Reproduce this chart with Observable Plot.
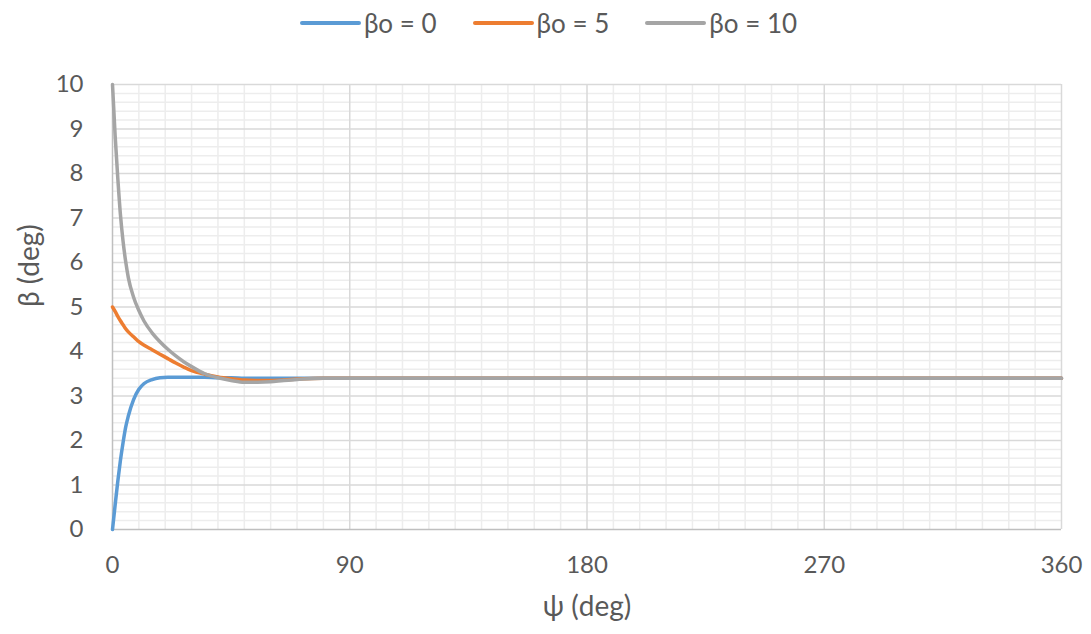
<!DOCTYPE html>
<html>
<head>
<meta charset="utf-8">
<script src="https://cdn.jsdelivr.net/npm/d3@7"></script>
<script src="https://cdn.jsdelivr.net/npm/@observablehq/plot@0.6"></script>
<style>
  html, body { margin: 0; padding: 0; background: #fff; }
  body { width: 1091px; height: 634px; overflow: hidden; font-family: Lato, "Open Sans", sans-serif; }
  #legend { height: 45px; display: flex; justify-content: center; align-items: center; gap: 36px; color: #595959; font-size: 26px; padding-left: 6px; box-sizing: border-box; }
  #legend .item { display: flex; align-items: center; gap: 3px; }
  #legend .sw { width: 61px; height: 4px; border-radius: 2px; }
</style>
</head>
<body>
<div id="legend"></div>
<div id="chart"></div>
<script>
const psi = [0, 1, 2, 3, 4, 5, 6, 8, 10, 12, 15, 18, 21, 24, 27, 30, 35, 40, 45, 50, 55, 60, 65, 70, 80, 90, 120, 180, 270, 360];
const beta0 = [0, 0.55, 1.08, 1.55, 1.95, 2.3, 2.55, 2.92, 3.15, 3.28, 3.37, 3.41, 3.42, 3.42, 3.42, 3.42, 3.42, 3.41, 3.41, 3.4, 3.4, 3.4, 3.4, 3.4, 3.4, 3.4, 3.4, 3.4, 3.4, 3.4];
const beta5 = [5.0, 4.9, 4.79, 4.69, 4.6, 4.51, 4.44, 4.33, 4.22, 4.14, 4.04, 3.94, 3.84, 3.74, 3.65, 3.57, 3.49, 3.43, 3.39, 3.36, 3.35, 3.35, 3.36, 3.38, 3.4, 3.4, 3.4, 3.4, 3.4, 3.4];
const beta10 = [10, 8.85, 7.9, 7.08, 6.48, 6.02, 5.66, 5.22, 4.92, 4.68, 4.42, 4.22, 4.05, 3.9, 3.77, 3.66, 3.5, 3.41, 3.35, 3.31, 3.31, 3.32, 3.35, 3.37, 3.4, 3.4, 3.4, 3.4, 3.4, 3.4];
const seriesNames = ["βo = 0", "βo = 5", "βo = 10"];
const seriesColors = ["#5B9BD5", "#ED7D31", "#A5A5A5"];
const xTicks = [0, 90, 180, 270, 360];
const yTicks = [0, 1, 2, 3, 4, 5, 6, 7, 8, 9, 10];
const xMinor = d3.range(10, 360, 10).filter(v => v % 90 !== 0);
const yMinor = d3.range(1, 50).map(i => i / 5).filter(v => Math.abs(v - Math.round(v)) > 1e-6);

const allSeries = [beta0, beta5, beta10];
const data = [];
allSeries.forEach((vals, s) => vals.forEach((b, i) => data.push({ s: seriesNames[s], psi: psi[i], beta: b })));

const legend = document.getElementById("legend");
seriesNames.forEach((n, i) => {
  const it = document.createElement("div");
  it.className = "item";
  it.innerHTML = `<span class="sw" style="background:${seriesColors[i]}"></span><span>${n}</span>`;
  legend.appendChild(it);
});

const chart = Plot.plot({
  width: 1091,
  height: 589,
  marginTop: 39,
  marginBottom: 105,
  marginLeft: 112,
  marginRight: 30,
  style: { fontFamily: "Lato, 'Open Sans', sans-serif", fontSize: "24px", color: "#595959", background: "#fff" },
  x: { domain: [0, 360], ticks: xTicks, label: null },
  y: { domain: [0, 10], ticks: yTicks, label: null },
  color: { domain: seriesNames, range: seriesColors },
  marks: [
    Plot.ruleY(yMinor, { stroke: "#EDEDED", strokeWidth: 1.5 }),
    Plot.ruleX(xMinor, { stroke: "#EDEDED", strokeWidth: 1.5 }),
    Plot.ruleY(yTicks.filter(v => v > 0), { stroke: "#D9D9D9", strokeWidth: 1.5 }),
    Plot.ruleX(xTicks.filter(v => v > 0), { stroke: "#D9D9D9", strokeWidth: 1.5 }),
    Plot.ruleX([0], { stroke: "#BFBFBF", strokeWidth: 1.5 }),
    Plot.ruleY([0], { stroke: "#BFBFBF", strokeWidth: 1.5 }),
    Plot.axisX({ ticks: xTicks, tickSize: 0, tickPadding: 26, fontSize: 24, fill: "#595959", label: null }),
    Plot.axisY({ ticks: yTicks, tickSize: 0, tickPadding: 29, fontSize: 24, fill: "#595959", label: null }),
    Plot.text(["ψ (deg)"], { frameAnchor: "bottom", dy: 86, fontSize: 28, fill: "#595959" }),
    Plot.text(["β (deg)"], { frameAnchor: "left", dx: -82, rotate: -90, fontSize: 28, fill: "#595959" }),
    Plot.line(data, { x: "psi", y: "beta", z: "s", stroke: "s", strokeWidth: 3.5, curve: "monotone-x" })
  ]
});
document.getElementById("chart").appendChild(chart);
</script>
</body>
</html>
